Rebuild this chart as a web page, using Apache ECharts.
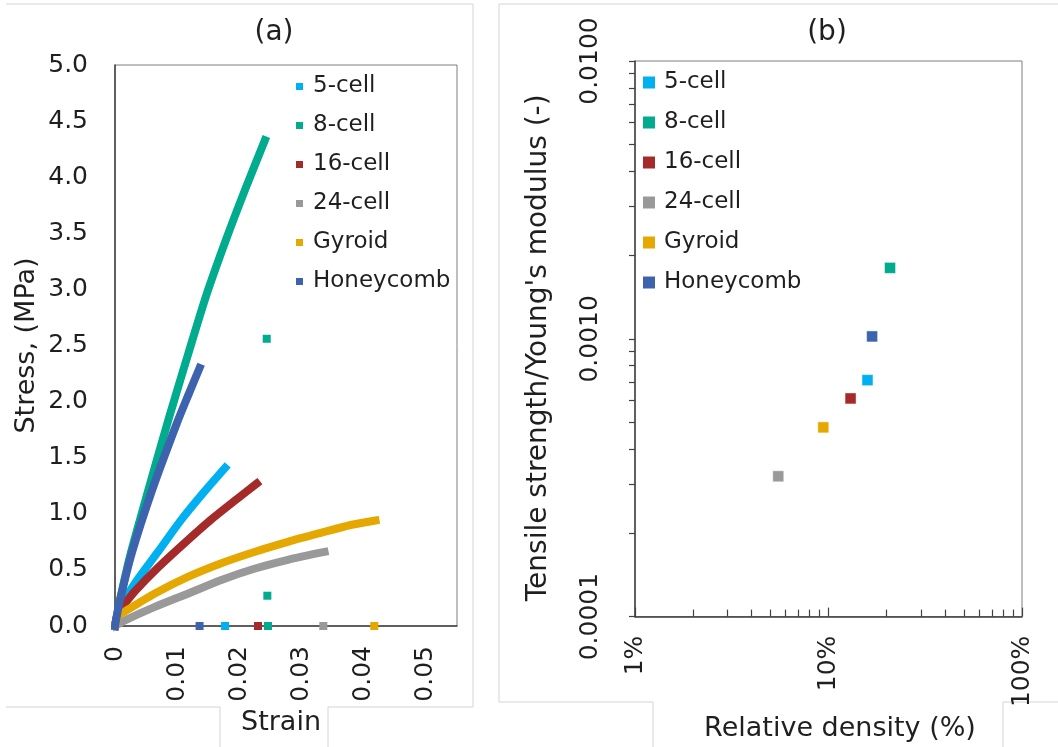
<!DOCTYPE html>
<html>
<head>
<meta charset="utf-8">
<script src="https://cdn.jsdelivr.net/npm/echarts@6/dist/echarts.min.js"></script>
<style>
  html, body { margin: 0; padding: 0; background: #ffffff; }
  #chart { width: 1058px; height: 747px; }
</style>
</head>
<body>
<div id="chart"></div>
<script>
// Lattice names, shared by both panels
const seriesNames = ['5-cell', '8-cell', '16-cell', '24-cell', 'Gyroid', 'Honeycomb'];

// (a) stress–strain curves: [strain (-), stress (MPa)]
const curve5cell = [[0, 0], [0.0008, 0.18], [0.0019, 0.27], [0.0037, 0.42], [0.0069, 0.66], [0.0107, 0.95], [0.0144, 1.20], [0.0177, 1.41]];
const curve8cell = [[0, 0], [0.0008, 0.23], [0.0024, 0.62], [0.0053, 1.20], [0.0087, 1.86], [0.0118, 2.43], [0.0147, 2.95], [0.0179, 3.45], [0.0210, 3.90], [0.0241, 4.33]];
const curve16cell = [[0, 0], [0.0005, 0.12], [0.0016, 0.20], [0.0032, 0.31], [0.0069, 0.52], [0.0112, 0.74], [0.0155, 0.95], [0.0198, 1.14], [0.0228, 1.27]];
const curve24cell = [[0, 0], [0.0016, 0.05], [0.0064, 0.17], [0.0118, 0.29], [0.0171, 0.41], [0.0224, 0.51], [0.0278, 0.59], [0.0337, 0.66]];
const curveGyroid = [[0, 0], [0.0005, 0.09], [0.0016, 0.13], [0.0064, 0.29], [0.0118, 0.44], [0.0171, 0.56], [0.0224, 0.66], [0.0278, 0.75], [0.0331, 0.83], [0.0379, 0.90], [0.0419, 0.94]];
const curveHoneycomb = [[0, 0], [0.0008, 0.23], [0.0027, 0.65], [0.0059, 1.20], [0.0099, 1.80], [0.0118, 2.06], [0.0136, 2.30]];

// (a) points recorded after failure (stress drop)
const after5cell = [[0.0177, 0]];
const after8cell = [[0.0244, 2.56], [0.0245, 0.27], [0.0246, 0]];
const after16cell = [[0.0230, 0]];
const after24cell = [[0.0335, 0]];
const afterGyroid = [[0.0417, 0]];
const afterHoneycomb = [[0.0136, 0]];

// (b) relative density (%) and tensile strength / Young's modulus (-)
const relativeDensity = [15.9, 20.8, 13.0, 5.5, 9.4, 16.8];
const strengthRatio = [0.00071, 0.00180, 0.00061, 0.00032, 0.00048, 0.00102];

// (b) minor tick positions of the log axes
const densityMinorTicks = [2, 3, 4, 5, 6, 7, 8, 9, 20, 30, 40, 50, 60, 70, 80, 90];
const ratioMinorTicks = [0.0002, 0.0003, 0.0004, 0.0005, 0.0006, 0.0007, 0.0008, 0.0009,
                         0.002, 0.003, 0.004, 0.005, 0.006, 0.007, 0.008, 0.009];

const curves = [curve5cell, curve8cell, curve16cell, curve24cell, curveGyroid, curveHoneycomb];
const afterPoints = [after5cell, after8cell, after16cell, after24cell, afterGyroid, afterHoneycomb];

const colors = ['#00B0F0', '#00AB8E', '#A52A2A', '#999999', '#E5A800', '#3E63AE'];
const FONT = '"DejaVu Sans", sans-serif';
const TEXT = '#1f1f1f';
const AXIS = '#404040';

const chart = echarts.init(document.getElementById('chart'), null, { renderer: 'canvas' });

const series = [];
seriesNames.forEach((name, i) => {
  series.push({
    name, type: 'line', xAxisIndex: 0, yAxisIndex: 0,
    data: curves[i], showSymbol: false, symbol: 'rect', clip: false, smooth: 0.25,
    lineStyle: { color: colors[i], width: 8, cap: 'square', join: 'round' },
    itemStyle: { color: colors[i], opacity: 1 }, z: 3 + i
  });
  series.push({
    name, type: 'scatter', xAxisIndex: 0, yAxisIndex: 0,
    data: afterPoints[i], symbol: 'rect', symbolSize: 8, clip: false,
    itemStyle: { color: colors[i], opacity: 1 }, z: 10
  });
  series.push({
    name, type: 'scatter', xAxisIndex: 1, yAxisIndex: 1,
    data: [[relativeDensity[i], strengthRatio[i]]], symbol: 'rect', symbolSize: 11,
    itemStyle: { color: colors[i], opacity: 1, borderColor: 'rgba(255,255,255,0.45)', borderWidth: 1 }, z: 10
  });
});

const tickLabel = { fontFamily: FONT, fontSize: 25, color: TEXT };
const axisName = { fontFamily: FONT, fontSize: 27, color: TEXT };
const frame = { stroke: '#d4d4d4', lineWidth: 1, fill: null };

chart.setOption({
  animation: false,
  backgroundColor: '#ffffff',
  grid: [
    { left: 115, top: 65, width: 342, height: 561, show: true, borderColor: '#7f7f7f', borderWidth: 1 },
    { left: 635, top: 61, width: 387, height: 556, show: true, borderColor: '#7f7f7f', borderWidth: 1 }
  ],
  legend: [
    {
      data: seriesNames, orient: 'vertical', left: 296, top: 75, itemGap: 16, padding: 0,
      icon: 'rect', itemWidth: 7, itemHeight: 7, selectedMode: false,
      textStyle: { fontFamily: FONT, fontSize: 23, color: TEXT, padding: [0, 0, 0, 5] }
    },
    {
      data: seriesNames, orient: 'vertical', left: 643, top: 71, itemGap: 17, padding: 0,
      icon: 'rect', itemWidth: 12, itemHeight: 12, selectedMode: false,
      itemStyle: { opacity: 1 },
      textStyle: { fontFamily: FONT, fontSize: 23, color: TEXT, padding: [0, 0, 0, 4] }
    }
  ],
  xAxis: [
    {
      type: 'value', gridIndex: 0, min: 0, max: 0.055, interval: 0.01,
      axisLine: { show: true, onZero: false, lineStyle: { color: AXIS, width: 1.5 } },
      axisTick: { show: false }, splitLine: { show: false },
      axisLabel: Object.assign({ rotate: 90, margin: 20,
        formatter: v => (Math.round(v * 1000) % 10 !== 0 ? '' : (v === 0 ? '0' : v.toFixed(2))) }, tickLabel),
      name: 'Strain', nameLocation: 'middle', nameGap: 82,
      nameTextStyle: Object.assign({ padding: [0, 10, 0, 0] }, axisName)
    },
    {
      type: 'log', logBase: 10, gridIndex: 1, min: 1, max: 100,
      axisLine: { show: true, onZero: false, lineStyle: { color: AXIS, width: 1.5 } },
      axisTick: { show: true, inside: true, length: 9, lineStyle: { color: AXIS, width: 1.2 } },
      splitLine: { show: false },
      axisLabel: Object.assign({ rotate: 90, margin: 19, formatter: v => Math.round(v) + '%' }, tickLabel),
      name: 'Relative density (%)', nameLocation: 'middle', nameGap: 88,
      nameTextStyle: Object.assign({ padding: [0, 0, 0, 23] }, axisName)
    },
    {
      // minor ticks of the density axis, laid out in decades
      type: 'value', gridIndex: 1, position: 'bottom', min: 0, max: 2,
      axisLine: { show: false }, axisLabel: { show: false }, splitLine: { show: false },
      axisTick: { show: true, inside: true, length: 7, customValues: densityMinorTicks.map(Math.log10),
        lineStyle: { color: AXIS, width: 1.2 } }
    }
  ],
  yAxis: [
    {
      type: 'value', gridIndex: 0, min: 0, max: 5, interval: 0.5,
      axisLine: { show: true, onZero: false, lineStyle: { color: AXIS, width: 1.5 } },
      axisTick: { show: false }, splitLine: { show: false },
      axisLabel: Object.assign({ margin: 27, formatter: v => v.toFixed(1) }, tickLabel),
      name: 'Stress, (MPa)', nameLocation: 'middle', nameGap: 75, nameTextStyle: axisName
    },
    {
      type: 'log', logBase: 10, gridIndex: 1, min: 0.0001, max: 0.01,
      axisLine: { show: true, onZero: false, lineStyle: { color: AXIS, width: 1.5 } },
      axisTick: { show: true, inside: false, length: 6, lineStyle: { color: AXIS, width: 1.2 } },
      splitLine: { show: false },
      axisLabel: Object.assign({ rotate: 90, margin: 32, formatter: v => v.toFixed(4) }, tickLabel),
      name: "Tensile strength/Young's modulus (-)", nameLocation: 'middle', nameGap: 82,
      nameTextStyle: Object.assign({}, axisName, { fontSize: 28, padding: [0, 18, 0, 0] })
    },
    {
      // minor ticks of the ratio axis, laid out in decades
      type: 'value', gridIndex: 1, position: 'left', min: -4, max: -2,
      axisLine: { show: false }, axisLabel: { show: false }, splitLine: { show: false },
      axisTick: { show: true, inside: false, length: 6, customValues: ratioMinorTicks.map(Math.log10),
        lineStyle: { color: AXIS, width: 1.2 } }
    }
  ],
  graphic: [
    { type: 'text', x: 274, y: 33, style: { text: '(a)', fontFamily: FONT, fontSize: 28, fill: TEXT,
      textAlign: 'center', textVerticalAlign: 'middle', align: 'center', verticalAlign: 'middle' } },
    { type: 'text', x: 827, y: 33, style: { text: '(b)', fontFamily: FONT, fontSize: 28, fill: TEXT,
      textAlign: 'center', textVerticalAlign: 'middle', align: 'center', verticalAlign: 'middle' } },
    // panel frames, opened where the axis titles sit
    { type: 'polyline', shape: { points: [[6, 4], [473, 4], [473, 707], [328, 707], [328, 747]] }, style: frame, silent: true },
    { type: 'polyline', shape: { points: [[6, 707], [220, 707], [220, 747]] }, style: frame, silent: true },
    { type: 'polyline', shape: { points: [[653, 747], [653, 702], [499, 702], [499, 4], [1058, 4]] }, style: frame, silent: true },
    { type: 'polyline', shape: { points: [[1003, 747], [1003, 702], [1058, 702]] }, style: frame, silent: true }
  ],
  series
});
</script>
</body>
</html>
